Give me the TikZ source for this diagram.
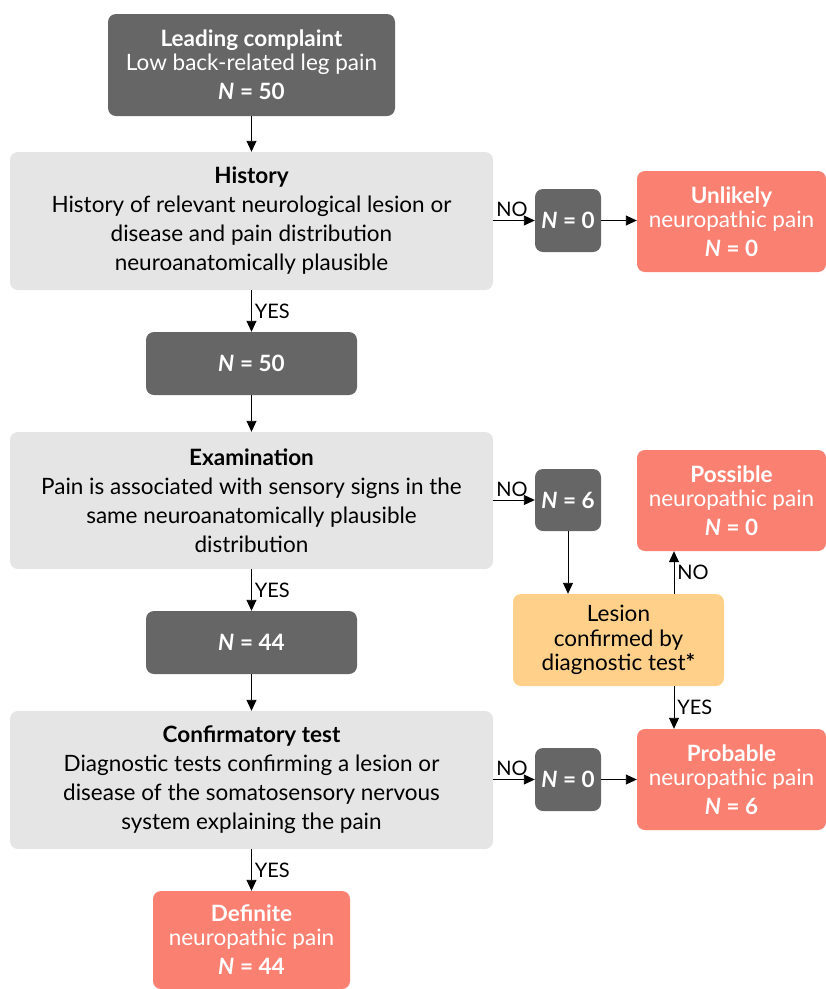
\documentclass[tikz,border=0pt]{standalone}
\usepackage{fontspec}
\setmainfont{Lato}
\usetikzlibrary{arrows.meta}
\definecolor{darkbox}{HTML}{666666}
\definecolor{lightbox}{HTML}{E5E5E5}
\definecolor{salmonbox}{HTML}{FA8072}
\definecolor{orangebox}{HTML}{FFD08A}
\begin{document}
\begin{tikzpicture}[x=1pt,y=-1pt,
  base/.style={rounded corners=8pt, inner sep=0pt, align=center, font=\fontsize{22.5}{29}\selectfont},
  darkb/.style={base, fill=darkbox, text=white},
  lightb/.style={base, fill=lightbox, text=black},
  salmonb/.style={base, fill=salmonbox, text=white},
  orangeb/.style={base, fill=orangebox, text=black},
  conn/.style={line width=0.9pt, -{Triangle[length=11pt,width=10pt]}},
  lbl/.style={font=\fontsize{20}{22}\selectfont, inner sep=3pt}
]
\useasboundingbox (0,0) rectangle (826,989);
\newcommand{\NN}[1]{\textbf{\textit{N}} \textbf{= #1}}

\node[darkb, minimum width=287pt, minimum height=102pt] (lead) at (251.5,65)
  {\textbf{Leading complaint}\\[-5pt]Low back-related leg pain\\\NN{50}};
\node[lightb, minimum width=483pt, minimum height=138pt] (hist) at (251.5,221)
  {\textbf{History}\\History of relevant neurological lesion or\\disease and pain distribution\\neuroanatomically plausible};
\node[darkb, minimum width=66pt, minimum height=63pt] (n0a) at (568,220.5) {\NN{0}};
\node[salmonb, minimum width=189pt, minimum height=101pt] (unl) at (731.5,221.5)
  {\textbf{Unlikely}\\[-5pt]neuropathic pain\\\NN{0}};
\node[darkb, minimum width=211pt, minimum height=63pt] (n50) at (251.5,363.5) {\NN{50}};
\node[lightb, minimum width=483pt, minimum height=137pt] (exam) at (251.5,500.5)
  {\textbf{Examination}\\Pain is associated with sensory signs in the\\same neuroanatomically plausible\\distribution};
\node[darkb, minimum width=66pt, minimum height=62pt] (n6) at (568,500) {\NN{6}};
\node[salmonb, minimum width=189pt, minimum height=101pt] (poss) at (731.5,500.5)
  {\textbf{Possible}\\[-5pt]neuropathic pain\\\NN{0}};
\node[orangeb, minimum width=211pt, minimum height=92pt, font=\fontsize{22.5}{24.5}\selectfont] (les) at (618.5,640)
  {Lesion\\confirmed by\\diagnostic test\textbf{*}};
\node[darkb, minimum width=211pt, minimum height=63pt] (n44) at (251.5,642.5) {\NN{44}};
\node[lightb, minimum width=483pt, minimum height=138pt] (conf) at (251.5,780)
  {\textbf{Confirmatory test}\\Diagnostic tests confirming a lesion or\\disease of the somatosensory nervous\\system explaining the pain};
\node[darkb, minimum width=66pt, minimum height=63pt] (n0b) at (568,779.5) {\NN{0}};
\node[salmonb, minimum width=189pt, minimum height=101pt] (prob) at (731.5,779.5)
  {\textbf{Probable}\\[-5pt]neuropathic pain\\\NN{6}};
\node[salmonb, minimum width=197pt, minimum height=98pt] (def) at (251.5,940)
  {\textbf{Definite}\\[-5pt]neuropathic pain\\\NN{44}};

\draw[conn] (lead) -- (hist);
\draw[conn] (hist) -- node[lbl, anchor=west, pos=0.5] {YES} (n50);
\draw[conn] (hist.east |- n0a) -- node[lbl, anchor=south, pos=0.45] {NO} (n0a);
\draw[conn] (n0a) -- (unl.west |- n0a);
\draw[conn] (n50) -- (exam);
\draw[conn] (exam) -- node[lbl, anchor=west, pos=0.5] {YES} (n44);
\draw[conn] (exam.east |- n6) -- node[lbl, anchor=south, pos=0.45] {NO} (n6);
\draw[conn] (n6) -- (n6 |- les.north);
\coordinate (lesx) at (674,686);
\draw[conn] (lesx |- les.north) -- node[lbl, anchor=west, pos=0.5] {NO} (lesx |- poss.south);
\draw[conn] (lesx |- les.south) -- node[lbl, anchor=west, pos=0.5] {YES} (lesx |- prob.north);
\draw[conn] (n44) -- (conf);
\draw[conn] (conf) -- node[lbl, anchor=west, pos=0.5] {YES} (def);
\draw[conn] (conf.east |- n0b) -- node[lbl, anchor=south, pos=0.45] {NO} (n0b);
\draw[conn] (n0b) -- (prob.west |- n0b);
\end{tikzpicture}
\end{document}
